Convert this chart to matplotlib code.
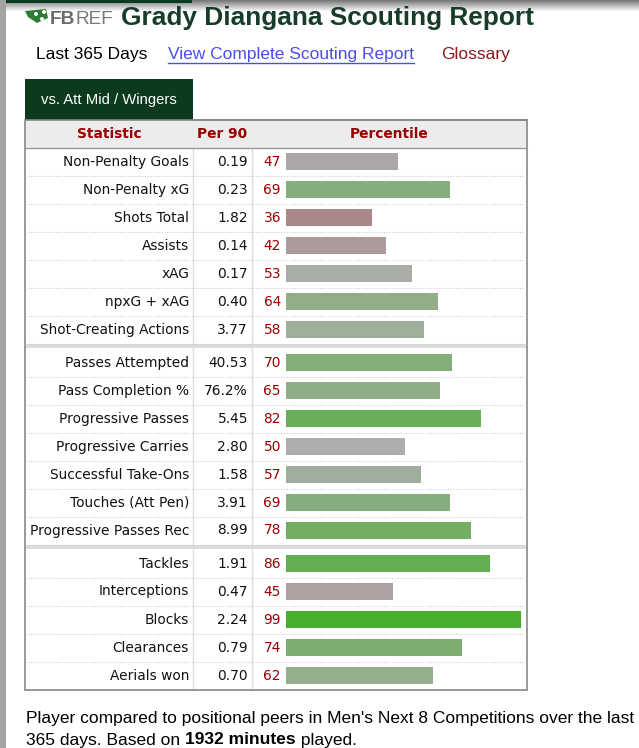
import matplotlib
matplotlib.use("Agg")
import matplotlib.pyplot as plt
import numpy as np
from matplotlib.patches import Rectangle, Polygon, Circle

# --- data -------------------------------------------------------------
player = "Grady Diangana"
stats = ["Non-Penalty Goals", "Non-Penalty xG", "Shots Total", "Assists", "xAG",
         "npxG + xAG", "Shot-Creating Actions",
         "Passes Attempted", "Pass Completion %", "Progressive Passes",
         "Progressive Carries", "Successful Take-Ons", "Touches (Att Pen)",
         "Progressive Passes Rec",
         "Tackles", "Interceptions", "Blocks", "Clearances", "Aerials won"]
per90 = ["0.19", "0.23", "1.82", "0.14", "0.17", "0.40", "3.77",
         "40.53", "76.2%", "5.45", "2.80", "1.58", "3.91", "8.99",
         "1.91", "0.47", "2.24", "0.79", "0.70"]
percentiles = [47, 69, 36, 42, 53, 64, 58,
               70, 65, 82, 50, 57, 69, 78,
               86, 45, 99, 74, 62]
group_sizes = [7, 7, 5]
headers = ["Statistic", "Per 90", "Percentile"]

W, H = 639, 748
DARK_GREEN = "#0b3a1c"
DARK_RED = "#990000"
px = 0.72  # pixel -> point
TFS = 13.8 * px   # table font
LFS = 17.4 * px   # page text

fig = plt.figure(figsize=(W / 100, H / 100), dpi=100)
ax = fig.add_axes([0, 0, 1, 1])
ax.set_xlim(0, W)
ax.set_ylim(H, 0)
ax.axis("off")

sans = ["Liberation Sans", "DejaVu Sans"]
verd = ["DejaVu Sans"]


def right_edge(t):
    fig.canvas.draw()
    bb = t.get_window_extent()
    return ax.transData.inverted().transform((bb.x1, bb.y0))[0]


# page chrome: left strip and top shadow
ax.add_patch(Rectangle((0, 0), 6, H, color="#a3a3a3", lw=0))
grad = np.linspace(0, 1, 12).reshape(-1, 1)
ax.imshow(grad, cmap="gray", vmin=-0.9, vmax=1.0, extent=(6, W, 12, 0),
          aspect="auto", zorder=0)
ax.add_patch(Rectangle((6, 0), 186, 3, color=DARK_GREEN, lw=0, zorder=1))
ax.set_xlim(0, W)
ax.set_ylim(H, 0)

# logo
ax.add_patch(Polygon([[25, 11], [46, 9], [48, 18], [37, 23], [28, 17]],
                     closed=True, color="#2e7d32", lw=0))
for cx, cy in [(36, 14), (42, 19), (44, 12)]:
    ax.add_patch(Circle((cx, cy), 2, color="white", lw=0))
t = ax.text(50, 24, "FB", fontsize=19 * px, fontweight="bold", color="#6a6a6a",
            family=sans, va="baseline", ha="left")
ax.text(right_edge(t), 24, "REF", fontsize=19 * px, fontweight="light",
        color="#7a7a7a", family=sans, va="baseline", ha="left")
ax.text(121, 24.5, f"{player} Scouting Report", fontsize=26.3 * px,
        fontweight="bold", color="#173d2a", family=sans, va="baseline", ha="left")

# sub links
ax.text(36, 54, "Last 365 Days", fontsize=LFS, color="black", family=sans,
        va="center")
t = ax.text(168, 54, "View Complete Scouting Report", fontsize=LFS,
            color="#4b4bf5", family=sans, va="center")
ax.plot([168, right_edge(t)], [63, 63], color="#4b4bf5", lw=1)
ax.text(441, 54, "Glossary", fontsize=LFS, color="#8b1a1a", family=sans,
        va="center")

# tab
ax.add_patch(Rectangle((25, 79), 168, 40.5, color=DARK_GREEN, lw=0))
ax.text(109, 99.5, "vs. Att Mid / Wingers", fontsize=14.9 * px, color="white",
        family=sans, va="center", ha="center")

# table geometry
tx0, tx1 = 25, 527
col1, col2 = 193, 252
top = 119.5
head_h = 28
row_h = 28
band = 5

ax.add_patch(Rectangle((tx0, top), tx1 - tx0, head_h, color="#ececec", lw=0))
for x, s in zip([(tx0 + col1) / 2, (col1 + col2) / 2, (col2 + tx1) / 2], headers):
    ax.text(x, top + head_h / 2, s, fontsize=TFS, fontweight="bold",
            color=DARK_RED, family=verd, va="center", ha="center")

row_centers = []
y = top + head_h
ax.plot([tx0, tx1], [y, y], color="#999999", lw=1)
for g, n in enumerate(group_sizes):
    for k in range(n):
        row_centers.append(y + row_h / 2)
        y += row_h
        if k < n - 1:
            ax.plot([tx0, tx1], [y, y], color="#cccccc", lw=0.8, ls=(0, (1, 1.5)))
    if g < len(group_sizes) - 1:
        ax.plot([tx0, tx1], [y, y], color="#cccccc", lw=0.8, ls=(0, (1, 1.5)))
        ax.add_patch(Rectangle((tx0, y + 0.8), tx1 - tx0, band - 1, color="#dcdcdc", lw=0))
        y += band
bottom = y

# column dividers and border
for x in (col1, col2):
    ax.plot([x, x], [top, bottom], color="#dddddd", lw=1, zorder=0.5)
ax.plot([col1, tx1], [top, top], color="#888888", lw=1.2)
ax.add_patch(Rectangle((tx0, top), tx1 - tx0, bottom - top, fill=False,
                       ec="#888888", lw=1.2))

# row texts
for yc, s, v, p in zip(row_centers, stats, per90, percentiles):
    ax.text(col1 - 4, yc, s, fontsize=TFS, color="#111111", family=verd,
            va="center", ha="right")
    ax.text(col2 - 4, yc, v, fontsize=TFS, color="#111111", family=verd,
            va="center", ha="right")
    ax.text(281, yc, str(p), fontsize=TFS, color=DARK_RED, family=verd,
            va="center", ha="right")


# percentile bars on their own axes (0-100 scale)
def bar_color(p):
    gray = np.array([174, 174, 174])
    green = np.array([70, 174, 42])
    red = np.array([163, 40, 40])
    if p >= 50:
        c = gray + (green - gray) * (p - 50) / 50
    else:
        c = gray + (red - gray) * (50 - p) / 50
    return c / 255


bx0, bx1 = 286, 523.6
bax = fig.add_axes([bx0 / W, 1 - bottom / H, (bx1 - bx0) / W, (bottom - (top + head_h)) / H])
bax.set_xlim(0, 100)
bax.set_ylim(bottom, top + head_h)
bax.axis("off")
bax.barh(row_centers, percentiles, height=17, left=0,
         color=[bar_color(p) for p in percentiles])

# footer
ax.text(26, 718, "Player compared to positional peers in Men's Next 8 Competitions over the last",
        fontsize=LFS, color="black", family=sans, va="center")
t = ax.text(26, 740, "365 days. Based on ", fontsize=LFS, color="black",
            family=sans, va="center")
t = ax.text(right_edge(t), 740, "1932 minutes", fontsize=LFS,
            fontweight="bold", color="black", family=sans, va="center")
ax.text(right_edge(t), 740, " played.", fontsize=LFS, color="black",
        family=sans, va="center")

fig.savefig("out.png", dpi=100)
